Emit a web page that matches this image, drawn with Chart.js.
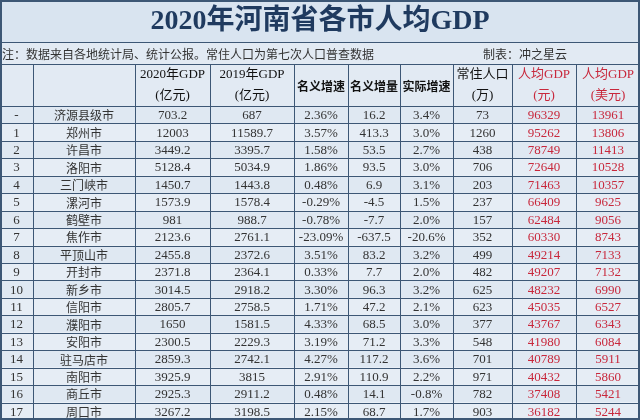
<!DOCTYPE html>
<html>
<head>
<meta charset="utf-8">
<script src="https://cdn.jsdelivr.net/npm/chart.js@4"></script>
<style>
  body { margin: 0; background: #fff; }
  #wrap { width: 640px; height: 420px; }
</style>
</head>
<body>
<div id="wrap"><canvas id="tableChart" width="640" height="420"></canvas></div>
<script>
// data
const ranks = ["-", "1", "2", "3", "4", "5", "6", "7", "8", "9", "10", "11", "12", "13", "14", "15", "16", "17"];
const cities = ["济源县级市", "郑州市", "许昌市", "洛阳市", "三门峡市", "漯河市", "鹤壁市", "焦作市", "平顶山市", "开封市",
    "新乡市", "信阳市", "濮阳市", "安阳市", "驻马店市", "南阳市", "商丘市", "周口市"];
const gdp2020 = ["703.2", "12003", "3449.2", "5128.4", "1450.7", "1573.9", "981", "2123.6", "2455.8", "2371.8",
    "3014.5", "2805.7", "1650", "2300.5", "2859.3", "3925.9", "2925.3", "3267.2"];
const gdp2019 = ["687", "11589.7", "3395.7", "5034.9", "1443.8", "1578.4", "988.7", "2761.1", "2372.6", "2364.1",
    "2918.2", "2758.5", "1581.5", "2229.3", "2742.1", "3815", "2911.2", "3198.5"];
const nominalGrowth = ["2.36%", "3.57%", "1.58%", "1.86%", "0.48%", "-0.29%", "-0.78%", "-23.09%", "3.51%", "0.33%",
    "3.30%", "1.71%", "4.33%", "3.19%", "4.27%", "2.91%", "0.48%", "2.15%"];
const nominalIncrease = ["16.2", "413.3", "53.5", "93.5", "6.9", "-4.5", "-7.7", "-637.5", "83.2", "7.7",
    "96.3", "47.2", "68.5", "71.2", "117.2", "110.9", "14.1", "68.7"];
const realGrowth = ["3.4%", "3.0%", "2.7%", "3.0%", "3.1%", "1.5%", "2.0%", "-20.6%", "3.2%", "2.0%",
    "3.2%", "2.1%", "3.0%", "3.3%", "3.6%", "2.2%", "-0.8%", "1.7%"];
const population = ["73", "1260", "438", "706", "203", "237", "157", "352", "499", "482",
    "625", "623", "377", "548", "701", "971", "782", "903"];
const perCapitaYuan = ["96329", "95262", "78749", "72640", "71463", "66409", "62484", "60330", "49214", "49207",
    "48232", "45035", "43767", "41980", "40789", "40432", "37408", "36182"];
const perCapitaUsd = ["13961", "13806", "11413", "10528", "10357", "9625", "9056", "8743", "7133", "7132",
    "6990", "6527", "6343", "6084", "5911", "5860", "5421", "5244"];
const headerTop = ["", "", "2020年GDP", "2019年GDP", "名义增速", "名义增量", "实际增速", "常住人口", "人均GDP", "人均GDP"];
const headerBottom = ["", "", "(亿元)", "(亿元)", "", "", "", "(万)", "(元)", "(美元)"];
const titleText = "2020年河南省各市人均GDP";
const noteText = "注：数据来自各地统计局、统计公报。常住人口为第七次人口普查数据";
const makerText = "制表：冲之星云";

const columns = [ranks, cities, gdp2020, gdp2019, nominalGrowth, nominalIncrease, realGrowth, population, perCapitaYuan, perCapitaUsd];
const colEdges = [0, 33, 135, 210, 294, 348, 400, 453, 512, 576, 640];

const BORDER = "#3d5775";
const NAVY = "#1f3a5f";
const RED = "#c8283c";
const SERIF = "'Liberation Serif', 'Noto Sans CJK SC', serif";
const CJK = "'Noto Sans CJK SC', sans-serif";

const tablePlugin = {
    id: "tablePlugin",
    beforeDraw(chart) {
        const ctx = chart.ctx;
        const area = chart.chartArea;
        const y = chart.scales.y;
        const step = y.getPixelForValue(1) - y.getPixelForValue(0);
        const W = chart.width;

        ctx.save();
        // backgrounds
        ctx.fillStyle = "#d9e4f0";
        ctx.fillRect(0, 0, W, 42);
        ctx.fillStyle = "#e2eaf3";
        ctx.fillRect(0, 42, W, area.top - 42);
        ranks.forEach((r, i) => {
            const c = y.getPixelForValue(i);
            ctx.fillStyle = i % 2 ? "#e6edf5" : "#dfe8f2";
            ctx.fillRect(0, c - step / 2, W, step);
        });

        // title
        ctx.fillStyle = NAVY;
        ctx.font = "bold 28px " + SERIF;
        ctx.textAlign = "center";
        ctx.textBaseline = "middle";
        ctx.fillText(titleText, W / 2, 22);

        // note row
        ctx.fillStyle = "#333";
        ctx.font = "12px " + CJK;
        ctx.textAlign = "left";
        ctx.fillText(noteText, 2, 54);
        ctx.fillText(makerText, 483, 54);

        // header
        for (let c = 0; c < columns.length; c++) {
            const cx = (colEdges[c] + colEdges[c + 1]) / 2;
            ctx.textAlign = "center";
            ctx.fillStyle = c >= 8 ? RED : "#111";
            if (headerBottom[c]) {
                ctx.font = "13px " + SERIF;
                ctx.fillText(headerTop[c], cx, 75);
                ctx.fillText(headerBottom[c], cx, 96);
            } else if (headerTop[c]) {
                ctx.font = "bold 12px " + CJK;
                ctx.fillText(headerTop[c], cx, 86);
            }
        }

        // cells
        columns.forEach((col, c) => {
            const cx = (colEdges[c] + colEdges[c + 1]) / 2;
            ctx.fillStyle = c >= 8 ? RED : "#333";
            col.forEach((v, i) => {
                ctx.font = (c === 1 ? "12px " + CJK : "13px " + SERIF);
                ctx.fillText(v, cx, y.getPixelForValue(i) + 1);
            });
        });

        // grid lines
        ctx.strokeStyle = BORDER;
        ctx.lineWidth = 1;
        ctx.beginPath();
        [42.5, 64.5].forEach(ly => { ctx.moveTo(0, ly); ctx.lineTo(W, ly); });
        ranks.forEach((r, i) => {
            const ly = Math.round(y.getPixelForValue(i) - step / 2) + 0.5;
            ctx.moveTo(0, ly); ctx.lineTo(W, ly);
        });
        colEdges.slice(1, -1).forEach(x => {
            ctx.moveTo(x + 0.5, 64); ctx.lineTo(x + 0.5, area.bottom);
        });
        ctx.stroke();
        ctx.lineWidth = 2;
        ctx.strokeRect(1, 1, W - 2, chart.height - 2);
        ctx.restore();
    }
};

new Chart(document.getElementById("tableChart"), {
    type: "bar",
    data: { labels: ranks, datasets: [{ data: [], backgroundColor: "transparent" }] },
    options: {
        responsive: false,
        animation: false,
        indexAxis: "y",
        layout: { padding: { top: 106, left: 0, right: 0, bottom: 0 } },
        plugins: { legend: { display: false }, tooltip: { enabled: false } },
        scales: {
            x: { display: false, min: 0, max: 1 },
            y: { display: false, offset: true }
        }
    },
    plugins: [tablePlugin]
});
</script>
</body>
</html>
